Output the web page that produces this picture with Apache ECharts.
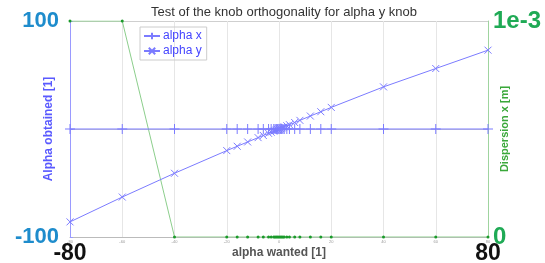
<!doctype html>
<html>
<head>
<meta charset="utf-8">
<title>knob orthogonality</title>
<script src="https://cdn.jsdelivr.net/npm/echarts@6/dist/echarts.min.js"></script>
<style>
  html, body { margin: 0; padding: 0; background: #fff; }
  #chart { width: 545px; height: 263px; }
</style>
</head>
<body>
<div id="chart"></div>
<script>
// alpha wanted (x) values
let wanted = [-80, -60, -40, -20, -16, -12, -8, -6, -4, -3, -2, -1.5, -1, -0.5, 0,
              0.5, 1, 1.5, 2, 3, 4, 6, 8, 12, 16, 20, 40, 60, 80];
// alpha x obtained - stays flat
let alphaX = [0, 0, 0, 0, 0, 0, 0, 0, 0, 0, 0, 0, 0, 0, 0,
              0, 0, 0, 0, 0, 0, 0, 0, 0, 0, 0, 0, 0, 0];
// alpha y obtained
let alphaY = [-86, -63, -41, -20, -16, -12, -8, -6, -4, -3, -2, -1.5, -1, -0.5, 0,
              0.5, 1, 1.5, 2, 3, 4, 6, 8, 12, 16, 20, 39, 56, 73];
// dispersion x [m]
let disp = [0.001, 0.001, 0, 0, 0, 0, 0, 0, 0, 0, 0, 0, 0, 0, 0,
            0, 0, 0, 0, 0, 0, 0, 0, 0, 0, 0, 0, 0, 0];
let xTicks = [-80, 80];
let leftTicks = { '100': '100', '-100': '-100' };
let rightTicks = ['0', '1e-3'];

const BLUE = '#7b7bff';
const GREEN = '#8cce8c';
const PLUS = 'path://M5,0L5,10M0,5L10,5';
const CROSS = 'path://M0,0L10,10M10,0L0,10';

function pairs(xs, ys) {
  return xs.map((x, i) => [x, ys[i]]);
}

var chart = echarts.init(document.getElementById('chart'), null, { renderer: 'canvas' });
var option = {
  animation: false,
  textStyle: { fontFamily: 'Liberation Sans' },
  title: {
    text: 'Test of the knob orthogonality for alpha y knob',
    left: 279, top: 1, textAlign: 'center',
    textStyle: { fontSize: 13, fontWeight: 'normal', color: '#333' }
  },
  legend: {
    orient: 'vertical', left: 140, top: 27,
    borderColor: '#ccc', borderWidth: 1, padding: [3, 5, 3, 3],
    itemWidth: 16, itemHeight: 8, itemGap: 3,
    textStyle: { color: '#4444ff', fontSize: 12, padding: [0, 0, 0, -2] },
    data: ['alpha x', 'alpha y']
  },
  grid: { left: 70, right: 57, top: 21, bottom: 26, outerBoundsMode: 'none', containLabel: false },
  xAxis: [{
    type: 'value', min: -80, max: 80, interval: 20,
    name: 'alpha wanted [1]', nameLocation: 'middle', nameGap: 10, nameMoveOverlap: false,
    nameTextStyle: { color: '#555', fontSize: 12, fontWeight: 'bold' },
    axisLine: { onZero: false, lineStyle: { color: '#bbb' } },
    axisTick: { show: false },
    axisLabel: { fontSize: 4, color: '#999', margin: 3 },
    splitLine: { show: true, lineStyle: { color: '#e6e6e6' } }
  }, {
    type: 'value', min: -80, max: 80, interval: 160, position: 'bottom',
    axisLine: { show: false, onZero: false }, axisTick: { show: false }, splitLine: { show: false },
    axisLabel: {
      margin: 5, fontSize: 23, fontWeight: 'bold', color: '#111',
      formatter: v => xTicks.includes(v) ? String(v) : ''
    }
  }],
  yAxis: [{
    type: 'value', min: -100, max: 100, interval: 100, position: 'left',
    name: 'Alpha obtained [1]', nameLocation: 'middle', nameGap: 15, nameMoveOverlap: false,
    nameTextStyle: { color: '#5a5aff', fontSize: 12, fontWeight: 'bold' },
    axisLine: { show: true, onZero: false, lineStyle: { color: '#9a9aff' } },
    axisTick: { show: true, length: 3, inside: true, lineStyle: { color: '#9a9aff' } },
    axisLabel: {
      margin: 11, fontSize: 22, fontWeight: 'bold', color: '#1e8ccc',
      formatter: v => leftTicks[String(v)] || ''
    },
    splitLine: { show: true, lineStyle: { color: '#cfcfcf' } }
  }, {
    type: 'value', min: 0, max: 0.001, interval: 0.001, position: 'right',
    name: 'Dispersion x [m]', nameLocation: 'middle', nameGap: 11, nameMoveOverlap: false,
    nameTextStyle: { color: '#3aa83a', fontSize: 11, fontWeight: 'bold' },
    axisLine: { show: true, onZero: false, lineStyle: { color: '#9fd49f' } },
    axisTick: { show: false },
    axisLabel: {
      margin: 5, fontSize: 24, fontWeight: 'bold', color: '#1faa55',
      formatter: v => v > 0 ? rightTicks[1] : rightTicks[0]
    },
    splitLine: { show: false }
  }],
  series: [{
    name: 'alpha x', type: 'line', yAxisIndex: 0,
    data: pairs(wanted, alphaX),
    symbol: PLUS, symbolSize: 10,
    lineStyle: { color: BLUE, width: 1 },
    itemStyle: { color: 'none', borderColor: BLUE, borderWidth: 1 }
  }, {
    name: 'alpha y', type: 'line', yAxisIndex: 0,
    data: pairs(wanted, alphaY),
    symbol: CROSS, symbolSize: 7,
    lineStyle: { color: BLUE, width: 1 },
    itemStyle: { color: 'none', borderColor: BLUE, borderWidth: 1 }
  }, {
    name: 'dispersion', type: 'line', yAxisIndex: 1,
    data: pairs(wanted, disp),
    symbol: 'circle', symbolSize: 3, z: 1,
    lineStyle: { color: GREEN, width: 1 },
    itemStyle: { color: '#1a9a2a' }
  }]
};
chart.setOption(option);
</script>
</body>
</html>
